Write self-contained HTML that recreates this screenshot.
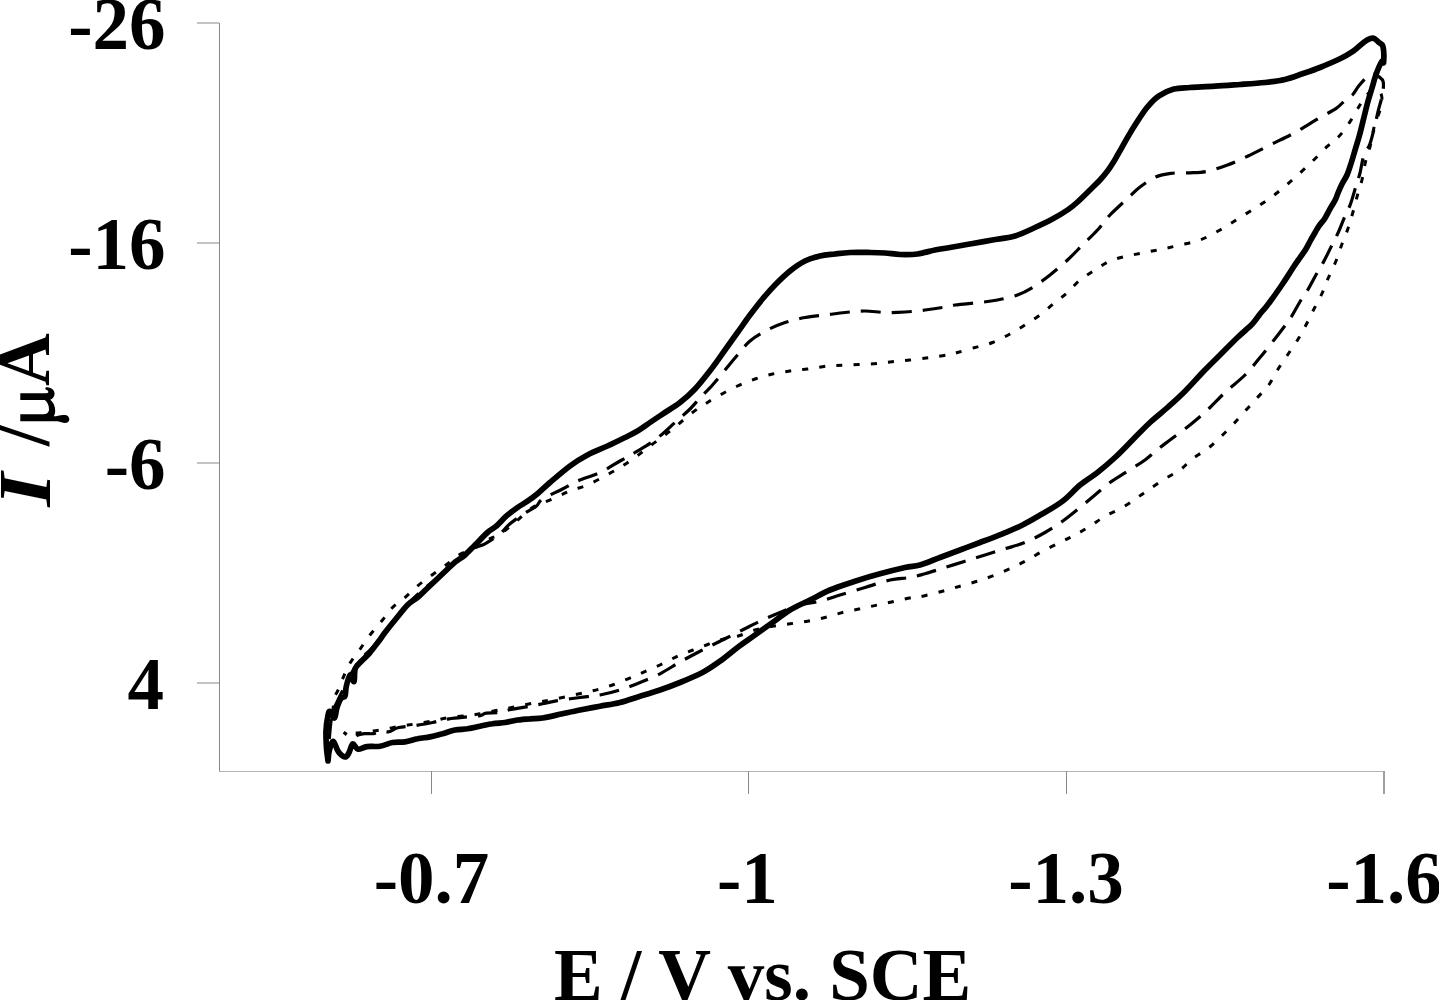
<!DOCTYPE html>
<html><head><meta charset="utf-8"><style>
html,body{margin:0;padding:0;background:#fff;}
body{width:1439px;height:1000px;overflow:hidden;position:relative;font-family:"Liberation Serif",serif;}
svg{position:absolute;left:0;top:0;}
.t{font-family:"Liberation Serif",serif;font-weight:bold;font-size:73px;fill:#000;}
</style></head><body>
<svg width="1439" height="1000" viewBox="0 0 1439 1000">
<g shape-rendering="crispEdges">
<rect x="219" y="23" width="1" height="748" fill="#888"/>
<rect x="197" y="22" width="22" height="2" fill="#c4c4c4"/>
<rect x="197" y="242" width="22" height="2" fill="#c4c4c4"/>
<rect x="197" y="462" width="22" height="2" fill="#c4c4c4"/>
<rect x="197" y="682" width="22" height="2" fill="#c4c4c4"/>
<rect x="219" y="771" width="1165" height="1" fill="#b4b4b4"/>
<rect x="431" y="771" width="1" height="23" fill="#888"/>
<rect x="748" y="771" width="1" height="23" fill="#888"/>
<rect x="1066" y="771" width="1" height="23" fill="#888"/>
<rect x="1383" y="771" width="2" height="23" fill="#a0a0a0"/>
</g>
<g fill="none" stroke="#000" stroke-linejoin="round">
<path d="M331.0,720.0 C331.4,717.9 332.6,711.4 333.2,707.6 C333.8,703.8 333.7,700.0 334.5,697.2 C335.3,694.4 336.5,693.6 337.8,690.7 C339.1,687.8 340.4,684.2 342.3,679.7 C344.2,675.2 346.7,668.9 349.5,664.0 C352.3,659.1 355.8,655.2 359.2,650.4 C362.6,645.6 366.1,640.1 370.0,635.0 C373.9,629.9 378.8,624.6 382.5,620.0 C386.2,615.4 388.8,611.2 392.5,607.5 C396.2,603.8 400.8,601.1 405.0,597.5 C409.2,593.9 413.5,589.4 418.0,585.6 C422.5,581.9 427.3,578.4 432.0,575.0 C436.7,571.6 441.3,568.4 446.0,565.0 C450.7,561.6 455.6,557.1 460.0,554.4 C464.4,551.7 468.0,551.4 472.5,549.0 C477.0,546.6 482.4,542.5 487.0,540.0 C491.6,537.5 495.3,536.9 500.0,534.0 C504.7,531.1 509.6,526.9 515.0,522.5 C520.4,518.1 526.2,511.4 532.5,507.5 C538.8,503.6 546.2,501.8 552.5,499.0 C558.8,496.2 564.2,493.3 570.0,491.0 C575.8,488.7 581.7,487.5 587.5,485.0 C593.3,482.5 599.6,478.9 605.0,476.0 C610.4,473.1 615.0,470.6 620.0,467.5 C625.0,464.4 630.0,461.1 635.0,457.5 C640.0,453.9 645.0,449.8 650.0,446.0 C655.0,442.2 660.4,438.5 665.0,435.0 C669.6,431.5 672.9,428.8 677.5,425.0 C682.1,421.2 687.9,416.0 692.5,412.5 C697.1,409.0 700.4,406.9 705.0,404.0 C709.6,401.1 714.6,398.0 720.0,395.0 C725.4,392.0 731.7,388.7 737.5,386.0 C743.3,383.3 749.2,381.0 755.0,379.0 C760.8,377.0 766.7,375.3 772.5,374.0 C778.3,372.7 784.2,371.8 790.0,371.0 C795.8,370.2 801.2,369.8 807.5,369.0 C813.8,368.2 820.8,366.7 827.5,366.0 C834.2,365.3 840.4,365.3 847.5,365.0 C854.6,364.7 862.9,364.5 870.0,364.0 C877.1,363.5 883.3,362.7 890.0,362.0 C896.7,361.3 903.3,360.8 910.0,360.0 C916.7,359.2 923.8,358.3 930.0,357.5 C936.2,356.7 942.9,355.8 947.5,355.0 C952.1,354.2 952.9,353.8 957.5,352.5 C962.1,351.2 969.2,349.2 975.0,347.5 C980.8,345.8 986.7,344.8 992.5,342.5 C998.3,340.2 1004.6,336.9 1010.0,334.0 C1015.4,331.1 1020.0,328.2 1025.0,325.0 C1030.0,321.8 1035.0,318.8 1040.0,315.0 C1045.0,311.2 1050.4,306.2 1055.0,302.5 C1059.6,298.8 1063.3,296.2 1067.5,292.5 C1071.7,288.8 1075.4,283.8 1080.0,280.0 C1084.6,276.2 1090.0,273.2 1095.0,270.0 C1100.0,266.8 1104.6,263.3 1110.0,261.0 C1115.4,258.7 1121.7,257.4 1127.5,256.0 C1133.3,254.6 1139.2,253.7 1145.0,252.5 C1150.8,251.3 1156.7,250.2 1162.5,249.0 C1168.3,247.8 1173.8,246.5 1180.0,245.0 C1186.2,243.5 1193.3,242.5 1200.0,240.0 C1206.7,237.5 1213.3,233.8 1220.0,230.0 C1226.7,226.2 1233.3,221.7 1240.0,217.5 C1246.7,213.3 1253.8,209.2 1260.0,205.0 C1266.2,200.8 1271.7,197.1 1277.5,192.5 C1283.3,187.9 1289.2,182.7 1295.0,177.5 C1300.8,172.3 1307.1,166.5 1312.5,161.2 C1317.9,156.0 1323.1,150.4 1327.5,146.2 C1331.9,142.1 1335.4,140.3 1339.1,136.3 C1342.8,132.3 1346.3,127.2 1349.6,122.3 C1352.9,117.4 1356.0,111.4 1358.7,107.0 C1361.4,102.6 1363.6,98.8 1366.0,96.0 C1368.4,93.2 1370.7,90.7 1373.0,90.0 C1375.3,89.3 1378.5,90.3 1380.0,92.0 C1381.5,93.7 1382.0,96.8 1382.0,100.0 C1382.0,103.2 1381.0,106.5 1379.7,111.0 C1378.4,115.5 1375.6,121.6 1374.1,127.2 C1372.6,132.8 1372.0,139.1 1370.6,144.7 C1369.2,150.3 1367.1,155.1 1365.7,160.8 C1364.3,166.5 1363.6,173.3 1362.2,179.0 C1360.8,184.7 1359.0,189.5 1357.5,195.0 C1356.0,200.5 1354.6,206.4 1353.0,212.0 C1351.4,217.6 1349.8,223.2 1348.0,228.5 C1346.2,233.8 1344.0,238.6 1342.0,244.0 C1340.0,249.4 1338.2,255.4 1336.0,261.0 C1333.8,266.6 1330.8,272.1 1328.5,277.5 C1326.2,282.9 1324.4,288.2 1322.0,293.5 C1319.6,298.8 1316.6,303.9 1314.0,309.0 C1311.4,314.1 1309.1,319.1 1306.5,324.0 C1303.9,328.9 1301.7,333.3 1298.5,338.5 C1295.3,343.7 1291.0,349.8 1287.5,355.0 C1284.0,360.2 1280.6,365.0 1277.5,370.0 C1274.4,375.0 1272.1,380.4 1268.8,385.0 C1265.4,389.6 1261.5,393.1 1257.5,397.5 C1253.5,401.9 1249.2,406.7 1245.0,411.2 C1240.8,415.8 1236.7,420.6 1232.5,425.0 C1228.3,429.4 1224.2,433.5 1220.0,437.5 C1215.8,441.5 1212.1,445.2 1207.5,448.8 C1202.9,452.3 1197.1,455.2 1192.5,458.8 C1187.9,462.3 1184.6,466.7 1180.0,470.0 C1175.4,473.3 1170.0,475.6 1165.0,478.8 C1160.0,481.9 1154.6,485.6 1150.0,488.8 C1145.4,491.9 1142.1,494.4 1137.5,497.5 C1132.9,500.6 1127.9,504.4 1122.5,507.5 C1117.1,510.6 1110.4,513.1 1105.0,516.2 C1099.6,519.4 1095.0,523.1 1090.0,526.2 C1085.0,529.4 1080.0,532.3 1075.0,535.0 C1070.0,537.7 1065.4,539.8 1060.0,542.5 C1054.6,545.2 1047.9,548.3 1042.5,551.2 C1037.1,554.2 1032.5,557.3 1027.5,560.0 C1022.5,562.7 1017.9,565.0 1012.5,567.5 C1007.1,570.0 1000.8,572.7 995.0,575.0 C989.2,577.3 983.3,579.4 977.5,581.2 C971.7,583.1 965.8,584.6 960.0,586.2 C954.2,587.9 948.8,589.6 942.5,591.2 C936.2,592.9 927.5,595.2 922.5,596.2 C917.5,597.3 917.1,596.7 912.5,597.5 C907.9,598.3 900.8,600.0 895.0,601.2 C889.2,602.5 883.3,603.8 877.5,605.0 C871.7,606.2 865.8,607.5 860.0,608.8 C854.2,610.0 848.3,611.0 842.5,612.5 C836.7,614.0 830.8,616.0 825.0,617.5 C819.2,619.0 813.3,620.2 807.5,621.2 C801.7,622.3 795.8,622.9 790.0,623.8 C784.2,624.6 778.3,625.2 772.5,626.2 C766.7,627.3 760.8,628.3 755.0,630.0 C749.2,631.7 743.3,634.6 737.5,636.2 C731.7,637.9 726.2,638.1 720.0,640.0 C713.8,641.9 706.7,645.0 700.0,647.5 C693.3,650.0 686.7,652.1 680.0,655.0 C673.3,657.9 666.7,661.9 660.0,665.0 C653.3,668.1 645.8,671.2 640.0,673.8 C634.2,676.2 630.8,677.7 625.0,680.0 C619.2,682.3 611.7,685.4 605.0,687.5 C598.3,689.6 593.3,690.6 585.0,692.5 C576.7,694.4 564.2,697.1 555.0,699.0 C545.8,700.9 538.3,702.1 530.0,703.8 C521.7,705.4 513.3,707.1 505.0,708.8 C496.7,710.4 486.2,712.6 480.0,713.8 C473.8,714.9 472.7,714.9 467.5,715.5 C462.3,716.1 454.6,716.6 448.8,717.5 C442.9,718.4 438.1,719.9 432.5,721.0 C426.9,722.1 420.6,723.1 415.0,724.0 C409.4,724.9 404.6,725.5 398.8,726.5 C392.9,727.5 385.6,729.1 380.0,730.0 C374.4,730.9 369.2,731.5 365.0,732.0 C360.8,732.5 357.8,733.2 355.0,733.0 C352.2,732.8 349.2,731.3 348.0,731.0" stroke-width="3.0" stroke-dasharray="6 11.2" stroke-dashoffset="8.7"/>
<path d="M329.0,742.0 C329.5,737.5 330.5,722.0 332.0,715.0 C333.5,708.0 335.8,704.8 338.0,700.0 C340.2,695.2 342.7,690.7 345.0,686.0 C347.3,681.3 349.5,676.3 352.0,672.0 C354.5,667.7 356.7,664.0 360.0,660.0 C363.3,656.0 367.8,652.7 372.0,648.0 C376.2,643.3 381.2,636.7 385.0,632.0 C388.8,627.3 391.7,624.2 395.0,620.0 C398.3,615.8 401.7,610.8 405.0,607.0 C408.3,603.2 411.7,600.2 415.0,597.0 C418.3,593.8 421.7,590.8 425.0,588.0 C428.3,585.2 431.7,582.8 435.0,580.0 C438.3,577.2 441.5,574.0 445.0,571.0 C448.5,568.0 452.7,564.7 456.0,562.0 C459.3,559.3 461.8,557.3 465.0,555.0 C468.2,552.7 471.7,549.9 475.0,548.0 C478.3,546.1 480.8,546.1 485.0,543.8 C489.2,541.4 495.8,537.1 500.0,533.8 C504.2,530.4 505.8,527.2 510.0,523.8 C514.2,520.3 520.6,515.9 525.0,513.0 C529.4,510.1 533.3,508.6 536.2,506.2 C539.2,503.9 538.1,501.9 542.5,499.0 C546.9,496.1 556.7,492.0 562.5,489.0 C568.3,486.0 571.2,483.8 577.5,481.0 C583.8,478.2 592.9,475.8 600.0,472.5 C607.1,469.2 614.2,464.3 620.0,461.0 C625.8,457.7 629.2,456.0 635.0,452.5 C640.8,449.0 648.3,445.0 655.0,440.0 C661.7,435.0 669.2,427.7 675.0,422.5 C680.8,417.3 685.8,413.1 690.0,409.0 C694.2,404.9 696.2,402.0 700.0,398.0 C703.8,394.0 708.3,389.7 712.5,385.0 C716.7,380.3 720.8,375.0 725.0,370.0 C729.2,365.0 733.3,359.8 737.5,355.0 C741.7,350.2 745.0,345.2 750.0,341.0 C755.0,336.8 761.7,333.1 767.5,330.0 C773.3,326.9 778.8,324.6 785.0,322.5 C791.2,320.4 798.3,318.8 805.0,317.5 C811.7,316.2 818.3,315.8 825.0,315.0 C831.7,314.2 838.3,313.2 845.0,312.5 C851.7,311.8 858.3,311.0 865.0,311.0 C871.7,311.0 878.3,312.3 885.0,312.5 C891.7,312.7 898.3,312.4 905.0,312.0 C911.7,311.6 918.8,310.8 925.0,310.0 C931.2,309.2 937.5,308.3 942.5,307.5 C947.5,306.7 948.8,305.8 955.0,305.0 C961.2,304.2 972.9,303.3 980.0,302.5 C987.1,301.7 991.2,301.2 997.5,300.0 C1003.8,298.8 1011.7,297.1 1017.5,295.0 C1023.3,292.9 1027.1,290.8 1032.5,287.5 C1037.9,284.2 1044.2,279.6 1050.0,275.0 C1055.8,270.4 1062.1,265.0 1067.5,260.0 C1072.9,255.0 1077.5,250.0 1082.5,245.0 C1087.5,240.0 1092.9,235.0 1097.5,230.0 C1102.1,225.0 1104.9,220.3 1110.0,215.0 C1115.1,209.7 1123.0,202.7 1128.0,198.0 C1133.0,193.3 1135.4,190.5 1140.0,187.0 C1144.6,183.5 1150.5,179.3 1155.6,177.0 C1160.7,174.7 1165.1,174.0 1170.8,173.3 C1176.5,172.6 1183.9,173.1 1190.0,172.8 C1196.1,172.5 1201.2,172.6 1207.5,171.2 C1213.8,169.9 1220.8,167.5 1227.5,165.0 C1234.2,162.5 1240.4,159.6 1247.5,156.2 C1254.6,152.9 1262.1,149.0 1270.0,145.0 C1277.9,141.0 1286.7,137.1 1295.0,132.5 C1303.3,127.9 1313.1,121.5 1320.0,117.5 C1326.9,113.5 1332.0,111.3 1336.2,108.4 C1340.4,105.5 1342.7,102.2 1345.4,100.0 C1348.1,97.8 1350.2,97.3 1352.4,95.0 C1354.6,92.7 1356.1,89.2 1358.7,86.0 C1361.3,82.8 1365.3,78.1 1367.8,76.1 C1370.2,74.1 1371.5,73.9 1373.4,74.0 C1375.3,74.1 1377.4,75.5 1379.0,76.8 C1380.6,78.1 1382.6,78.8 1383.2,81.7 C1383.8,84.6 1383.3,89.5 1382.5,94.3 C1381.7,99.1 1379.6,105.2 1378.3,110.4 C1377.0,115.7 1376.2,120.2 1374.8,125.8 C1373.4,131.4 1371.7,139.1 1369.9,144.0 C1368.1,148.9 1365.7,150.2 1364.0,155.0 C1362.3,159.8 1361.3,167.8 1360.0,173.0 C1358.7,178.2 1357.6,180.8 1356.0,186.0 C1354.4,191.2 1352.3,199.0 1350.5,204.0 C1348.7,209.0 1347.1,211.2 1345.0,216.0 C1342.9,220.8 1340.2,228.2 1338.0,233.0 C1335.8,237.8 1334.3,240.3 1332.0,245.0 C1329.7,249.7 1326.5,256.3 1324.0,261.0 C1321.5,265.7 1319.7,268.2 1317.0,273.0 C1314.3,277.8 1310.7,285.0 1308.0,289.5 C1305.3,294.0 1303.8,295.5 1301.0,300.0 C1298.2,304.5 1294.3,312.0 1291.5,316.5 C1288.7,321.0 1286.9,323.1 1284.0,327.0 C1281.1,330.9 1278.0,334.9 1274.0,340.0 C1270.0,345.1 1264.8,351.7 1260.0,357.5 C1255.2,363.3 1250.8,369.2 1245.0,375.0 C1239.2,380.8 1231.2,386.7 1225.0,392.5 C1218.8,398.3 1213.3,404.6 1207.5,410.0 C1201.7,415.4 1196.2,420.0 1190.0,425.0 C1183.8,430.0 1175.0,436.2 1170.0,440.0 C1165.0,443.8 1164.2,444.2 1160.0,447.5 C1155.8,450.8 1150.4,456.0 1145.0,460.0 C1139.6,464.0 1133.3,467.5 1127.5,471.2 C1121.7,475.0 1115.4,478.5 1110.0,482.5 C1104.6,486.5 1100.0,490.8 1095.0,495.0 C1090.0,499.2 1085.4,503.1 1080.0,507.5 C1074.6,511.9 1068.3,517.1 1062.5,521.2 C1056.7,525.4 1051.2,529.0 1045.0,532.5 C1038.8,536.0 1031.7,539.8 1025.0,542.5 C1018.3,545.2 1011.7,546.7 1005.0,548.8 C998.3,550.8 991.7,552.9 985.0,555.0 C978.3,557.1 971.7,559.2 965.0,561.2 C958.3,563.3 951.7,565.4 945.0,567.5 C938.3,569.6 930.8,572.1 925.0,573.8 C919.2,575.4 915.8,576.5 910.0,577.5 C904.2,578.5 897.5,578.3 890.0,580.0 C882.5,581.7 873.3,585.0 865.0,587.5 C856.7,590.0 847.5,592.7 840.0,595.0 C832.5,597.3 826.7,599.6 820.0,601.2 C813.3,602.9 806.7,603.1 800.0,605.0 C793.3,606.9 786.7,609.8 780.0,612.5 C773.3,615.2 766.7,618.1 760.0,621.2 C753.3,624.4 746.7,627.9 740.0,631.2 C733.3,634.6 726.7,637.9 720.0,641.2 C713.3,644.6 706.7,647.8 700.0,651.2 C693.3,654.7 686.7,658.2 680.0,662.0 C673.3,665.8 666.7,670.3 660.0,673.8 C653.3,677.2 646.7,679.8 640.0,682.5 C633.3,685.2 626.7,687.9 620.0,690.0 C613.3,692.1 606.7,693.8 600.0,695.0 C593.3,696.2 587.1,696.6 580.0,697.5 C572.9,698.4 563.8,699.6 557.5,700.6 C551.2,701.6 547.1,702.8 542.5,703.8 C537.9,704.7 535.2,705.3 530.0,706.2 C524.8,707.2 516.5,708.4 511.2,709.4 C506.0,710.4 502.9,711.9 498.8,712.5 C494.6,713.1 489.4,712.6 486.2,713.1 C483.1,713.6 483.1,715.0 480.0,715.6 C476.9,716.2 472.7,716.4 467.5,716.9 C462.3,717.4 454.6,717.8 448.8,718.8 C442.9,719.7 438.1,721.4 432.5,722.5 C426.9,723.6 420.6,724.8 415.0,725.6 C409.4,726.4 403.1,726.5 398.8,727.5 C394.4,728.5 391.7,731.1 389.0,731.7 C386.3,732.3 385.2,730.7 382.6,731.0 C380.0,731.3 376.5,733.2 373.5,733.6 C370.5,734.0 367.0,733.4 364.4,733.6 C361.8,733.8 359.7,734.4 358.0,735.0 C356.3,735.6 355.3,737.2 354.0,737.5 C352.7,737.8 351.8,737.8 350.1,736.9 C348.4,736.0 344.7,733.1 343.6,732.3" stroke-width="3.2" stroke-dasharray="20 11" stroke-dashoffset="-3"/>
<path d="M328.0,761.0 C327.8,758.8 326.8,753.0 326.5,748.0 C326.2,743.0 325.8,736.4 326.0,731.0 C326.2,725.6 327.3,718.6 328.0,715.4 C328.7,712.1 328.9,711.1 330.0,711.5 C331.1,711.9 333.3,718.6 334.5,718.0 C335.7,717.4 335.9,710.9 337.0,707.6 C338.1,704.4 339.7,700.4 341.0,698.5 C342.3,696.6 344.1,698.0 345.0,696.0 C345.9,694.0 345.4,690.3 346.2,686.8 C347.0,683.3 348.7,675.9 350.0,675.0 C351.3,674.1 353.1,682.7 354.0,681.6 C354.9,680.5 354.0,672.1 355.3,668.6 C356.6,665.1 359.4,663.4 361.8,660.8 C364.2,658.2 366.8,656.2 369.6,653.0 C372.4,649.8 376.1,644.7 378.7,641.3 C381.3,637.9 382.3,636.0 385.0,632.5 C387.7,629.0 391.2,624.6 395.0,620.0 C398.8,615.4 403.8,608.8 407.5,605.0 C411.2,601.2 414.4,600.1 417.5,597.5 C420.6,594.9 423.1,592.2 426.0,589.5 C428.9,586.8 431.8,584.0 435.0,581.0 C438.2,578.0 441.5,574.8 445.0,571.5 C448.5,568.2 452.9,564.0 456.2,561.2 C459.6,558.5 461.9,557.7 465.0,555.0 C468.1,552.3 471.2,548.8 475.0,545.0 C478.8,541.2 484.0,535.6 487.5,532.5 C491.0,529.4 493.1,529.0 496.2,526.2 C499.4,523.5 502.7,519.4 506.2,516.2 C509.8,513.1 514.0,510.0 517.5,507.5 C521.0,505.0 524.2,503.5 527.5,501.2 C530.8,499.0 533.8,496.9 537.5,493.8 C541.2,490.6 544.6,487.1 550.0,482.5 C555.4,477.9 563.8,470.6 570.0,466.0 C576.2,461.4 581.2,458.3 587.5,455.0 C593.8,451.7 601.2,448.9 607.5,446.0 C613.8,443.1 620.0,440.0 625.0,437.5 C630.0,435.0 633.3,433.5 637.5,431.0 C641.7,428.5 645.4,425.6 650.0,422.5 C654.6,419.4 660.0,415.8 665.0,412.5 C670.0,409.2 675.0,406.4 680.0,402.5 C685.0,398.6 689.6,394.8 695.0,389.0 C700.4,383.2 707.5,374.0 712.5,367.5 C717.5,361.0 720.8,355.8 725.0,350.0 C729.2,344.2 733.3,338.3 737.5,332.5 C741.7,326.7 745.8,320.6 750.0,315.0 C754.2,309.4 758.3,304.0 762.5,299.0 C766.7,294.0 770.4,289.7 775.0,285.0 C779.6,280.3 785.0,275.0 790.0,271.0 C795.0,267.0 800.0,263.5 805.0,261.0 C810.0,258.5 815.0,257.2 820.0,256.0 C825.0,254.8 830.0,254.6 835.0,254.0 C840.0,253.4 844.2,252.8 850.0,252.5 C855.8,252.2 864.2,252.4 870.0,252.5 C875.8,252.6 880.0,252.7 885.0,253.0 C890.0,253.3 894.6,254.3 900.0,254.5 C905.4,254.7 911.7,254.8 917.5,254.0 C923.3,253.2 929.6,251.1 935.0,250.0 C940.4,248.9 944.2,248.5 950.0,247.5 C955.8,246.5 962.9,245.2 970.0,244.0 C977.1,242.8 985.0,241.3 992.5,240.0 C1000.0,238.7 1007.9,238.1 1015.0,236.0 C1022.1,233.9 1028.8,230.3 1035.0,227.5 C1041.2,224.7 1047.1,221.9 1052.5,219.0 C1057.9,216.1 1063.4,212.8 1067.5,210.0 C1071.6,207.2 1073.0,206.1 1077.0,202.5 C1081.0,198.9 1087.7,192.2 1091.5,188.5 C1095.3,184.8 1097.3,182.9 1100.0,180.0 C1102.7,177.1 1105.2,174.0 1107.5,171.0 C1109.8,168.0 1111.6,165.1 1113.5,162.0 C1115.4,158.9 1116.0,157.6 1119.0,152.5 C1122.0,147.4 1126.6,138.6 1131.2,131.2 C1135.8,123.8 1141.8,114.1 1146.4,108.3 C1151.0,102.5 1154.0,99.3 1158.6,96.1 C1163.2,92.9 1168.7,90.5 1173.9,89.1 C1179.1,87.7 1183.2,88.0 1190.0,87.5 C1196.8,87.0 1206.7,86.8 1215.0,86.2 C1223.3,85.8 1231.7,85.1 1240.0,84.5 C1248.3,83.9 1257.5,83.3 1265.0,82.5 C1272.5,81.7 1278.8,81.0 1285.0,79.5 C1291.2,78.0 1296.7,75.8 1302.5,73.8 C1308.3,71.8 1313.8,70.0 1320.0,67.5 C1326.2,65.0 1334.4,61.5 1340.0,58.8 C1345.6,56.0 1349.5,53.6 1353.6,50.8 C1357.7,48.0 1361.2,43.9 1364.4,41.8 C1367.6,39.7 1370.4,38.1 1372.8,38.2 C1375.2,38.3 1377.1,41.0 1378.8,42.4 C1380.5,43.8 1382.2,43.3 1383.0,46.6 C1383.8,49.9 1383.8,59.7 1383.6,62.2 C1383.4,64.7 1383.0,59.4 1381.8,61.4 C1380.6,63.4 1377.8,69.6 1376.2,74.0 C1374.6,78.4 1373.4,83.3 1372.0,88.0 C1370.6,92.7 1369.2,96.9 1367.8,102.0 C1366.4,107.1 1365.0,113.2 1363.6,118.8 C1362.2,124.4 1360.8,130.5 1359.4,135.6 C1358.0,140.7 1356.6,144.9 1355.2,149.6 C1353.8,154.3 1352.4,159.4 1351.0,163.6 C1349.6,167.8 1348.5,171.6 1347.0,175.0 C1345.5,178.4 1343.5,181.0 1342.0,184.0 C1340.5,187.0 1339.1,190.3 1338.0,193.0 C1336.9,195.7 1336.6,197.2 1335.2,200.0 C1333.8,202.8 1331.3,206.5 1329.6,209.6 C1327.9,212.7 1326.5,215.7 1324.8,218.4 C1323.1,221.1 1320.9,223.2 1319.2,225.6 C1317.5,228.0 1316.3,230.4 1314.8,233.0 C1313.3,235.6 1311.7,238.2 1310.2,241.0 C1308.7,243.8 1307.3,246.8 1305.6,249.6 C1303.9,252.4 1301.9,254.9 1300.0,257.6 C1298.1,260.3 1296.3,262.8 1294.4,265.6 C1292.5,268.4 1290.8,271.3 1288.8,274.4 C1286.8,277.5 1285.3,279.9 1282.5,284.0 C1279.7,288.1 1274.8,295.2 1272.0,299.0 C1269.2,302.8 1268.0,304.5 1266.0,307.0 C1264.0,309.5 1262.2,311.2 1260.0,314.0 C1257.8,316.8 1256.2,319.8 1252.5,323.8 C1248.8,327.7 1242.9,332.3 1237.5,337.5 C1232.1,342.7 1225.8,349.2 1220.0,355.0 C1214.2,360.8 1208.3,366.5 1202.5,372.5 C1196.7,378.5 1190.8,385.4 1185.0,391.2 C1179.2,397.1 1173.3,402.3 1167.5,407.5 C1161.7,412.7 1155.8,417.1 1150.0,422.5 C1144.2,427.9 1138.3,434.2 1132.5,440.0 C1126.7,445.8 1120.8,452.1 1115.0,457.5 C1109.2,462.9 1103.3,467.9 1097.5,472.5 C1091.7,477.1 1085.8,480.2 1080.0,485.0 C1074.2,489.8 1068.8,496.5 1062.5,501.2 C1056.2,506.0 1049.2,509.8 1042.5,513.8 C1035.8,517.7 1029.2,521.7 1022.5,525.0 C1015.8,528.3 1009.6,530.8 1002.5,533.8 C995.4,536.7 987.1,539.8 980.0,542.5 C972.9,545.2 966.7,547.5 960.0,550.0 C953.3,552.5 946.7,555.0 940.0,557.5 C933.3,560.0 925.8,563.3 920.0,565.0 C914.2,566.7 911.7,566.0 905.0,567.5 C898.3,569.0 888.3,571.5 880.0,573.8 C871.7,576.0 863.3,578.5 855.0,581.2 C846.7,584.0 837.5,586.9 830.0,590.0 C822.5,593.1 816.7,596.7 810.0,600.0 C803.3,603.3 796.2,606.2 790.0,610.0 C783.8,613.8 778.3,618.3 772.5,622.5 C766.7,626.7 760.8,630.8 755.0,635.0 C749.2,639.2 743.3,643.1 737.5,647.5 C731.7,651.9 725.8,657.1 720.0,661.2 C714.2,665.4 709.2,669.0 702.5,672.5 C695.8,676.0 687.1,679.6 680.0,682.5 C672.9,685.4 666.7,687.7 660.0,690.0 C653.3,692.3 646.7,694.2 640.0,696.2 C633.3,698.3 626.7,700.8 620.0,702.5 C613.3,704.2 606.7,705.0 600.0,706.2 C593.3,707.5 586.2,708.8 580.0,710.0 C573.8,711.2 568.8,712.4 562.5,713.8 C556.2,715.1 547.9,717.2 542.5,718.0 C537.1,718.8 534.2,718.4 530.0,718.8 C525.8,719.1 521.7,719.4 517.5,720.0 C513.3,720.6 509.2,721.9 505.0,722.5 C500.8,723.1 496.7,723.1 492.5,723.8 C488.3,724.4 484.2,725.4 480.0,726.2 C475.8,727.1 471.7,728.1 467.5,728.8 C463.3,729.4 459.2,729.2 455.0,730.0 C450.8,730.8 446.7,732.6 442.5,733.8 C438.3,734.9 434.2,736.1 430.0,736.9 C425.8,737.7 421.7,737.9 417.5,738.8 C413.3,739.6 409.2,741.3 405.0,741.9 C400.8,742.5 396.7,741.8 392.5,742.5 C388.3,743.2 384.2,745.6 380.0,746.2 C375.8,746.9 370.7,746.1 367.0,746.6 C363.3,747.1 360.4,749.6 358.0,749.2 C355.6,748.8 354.2,743.4 352.7,744.0 C351.2,744.6 350.1,750.8 348.8,753.0 C347.5,755.2 346.7,757.2 345.0,757.0 C343.3,756.8 340.4,754.4 338.4,751.8 C336.4,749.2 334.7,741.6 333.2,741.4 C331.7,741.2 330.2,747.2 329.3,750.5 C328.4,753.8 328.2,759.2 328.0,761.0" stroke-width="5.7" stroke-linecap="round"/>
</g>
<g class="t">
<text x="165.5" y="48.5" text-anchor="end">-26</text>
<text x="165.5" y="269" text-anchor="end">-16</text>
<text x="165.5" y="489.3" text-anchor="end">-6</text>
<text x="164" y="709.2" text-anchor="end">4</text>
<text x="431.5" y="902.5" text-anchor="middle">-0.7</text>
<text x="747.3" y="902.5" text-anchor="middle">-1</text>
<text x="1066" y="902.5" text-anchor="middle">-1.3</text>
<text x="1384" y="902.5" text-anchor="middle">-1.6</text>
<text x="554" y="1000">E / V vs. SCE</text>
<g transform="translate(48.7,508) rotate(-90)"><text transform="translate(1.2,1.2) scale(1.2,1)" font-style="italic">I</text><text x="62">/</text><text x="122">A</text></g>
</g>
<path fill="#000" d="M20.3,393.3 L46,393.3 C48.5,393.3 49,391.6 47.6,390.4 C46.6,389.7 45.3,389.6 45.3,388.4 C45.3,387.4 46.3,387.1 47.5,387.2 C51.5,387.6 54.6,390.1 54.6,393.6 C54.6,396.5 53,398.7 50.3,399.8 C53.5,402.5 55.2,406.4 55.2,410.4 C55.2,412.7 54.7,414.5 53.8,416.2 C56,416.2 58.5,415.6 61,415.2 C62.2,415 63.5,414.9 64.8,414.9 C67.5,414.9 69.3,417 69.3,419.2 C69.3,421.3 67.6,423 65,423 C62.5,423 60.5,421.6 57.5,421.2 L20.3,421.2 L20.3,414.2 L44,414.2 C47,414.2 49,412.3 49,409.3 C49,405.3 47.5,402.1 44.8,400 L20.3,400 Z"/>
</svg>
</body></html>
